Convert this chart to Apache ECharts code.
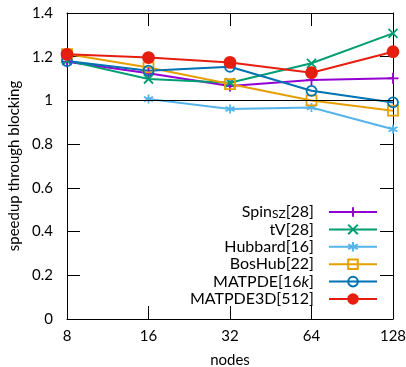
<!DOCTYPE html>
<html><head><meta charset="utf-8">
<script src="https://cdn.jsdelivr.net/npm/echarts@6/dist/echarts.min.js"></script>
<style>html,body{margin:0;padding:0;background:#fff}#c{width:406px;height:367px}</style>
</head><body><div id="c"></div>
<script>
var nodes = [8, 16, 32, 64, 128];
var xTicks = ['8','16','32','64','128'];
var spinSZ   = [1.177, 1.124, 1.066, 1.093, 1.101];
var tV       = [1.182, 1.098, 1.081, 1.170, 1.307];
var hubbard  = [null, 1.006, 0.961, 0.968, 0.868];
var bosHub   = [1.212, 1.151, 1.075, 1.000, 0.953];
var matpde   = [1.180, 1.136, 1.154, 1.044, 0.991];
var matpde3d = [1.211, 1.196, 1.174, 1.127, 1.223];

var FONT = 'Lato';
var names = ['Spin_SZ[28]','tV[28]','Hubbard[16]','BosHub[22]','MATPDE[16k]','MATPDE3D[512]'];
var plus = 'path://M5,0 L5,10 M0,5 L10,5';
var cross = 'path://M0,0 L10,10 M0,10 L10,0';
var star = 'path://M5,0 L5,10 M0.7,2.5 L9.3,7.5 M0.7,7.5 L9.3,2.5';

function mk(name, data, color, symbol, size, fill){
  return {
    name: name, type: 'line',
    data: nodes.map(function(n,i){ return data[i]==null ? null : [n, data[i]]; }),
    connectNulls: false,
    symbol: symbol, symbolSize: size, showAllSymbol: true,
    lineStyle: {color: color, width: 2},
    itemStyle: {color: fill || color, borderColor: color, borderWidth: 1.8},
    emphasis: {disabled: true},
    animation: false, z: 3
  };
}
var series = [
  mk(names[0], spinSZ, '#9400d3', plus, 11),
  mk(names[1], tV, '#009e73', cross, 9),
  mk(names[2], hubbard, '#56b4e9', star, 9),
  mk(names[3], bosHub, '#e69f00', 'rect', 10, 'rgba(255,255,255,0)'),
  mk(names[4], matpde, '#0072b2', 'circle', 10, 'rgba(255,255,255,0)'),
  mk(names[5], matpde3d, '#e51e10', 'circle', 11)
];
series[0].markLine = {silent: true, symbol: 'none', label: {show: false},
  lineStyle: {color: '#000', width: 1, type: 'solid'}, data: [{yAxis: 1}], animation: false};

var chart = echarts.init(document.getElementById('c'));
var axisBase = {
  axisLine: {show: true, onZero: false, lineStyle: {color: '#000', width: 1}},
  axisTick: {show: true, inside: true, length: 13, lineStyle: {color: '#000', width: 1}},
  splitLine: {show: false}
};
chart.setOption({
  backgroundColor: '#fff',
  animation: false,
  textStyle: {fontFamily: FONT},
  grid: {left: 67, right: 13, top: 13, bottom: 48, containLabel: false, outerBoundsMode: 'none'},
  legend: {
    orient: 'vertical', left: 179, top: 199, align: 'right',
    itemWidth: 48, itemHeight: 12, itemGap: 1.4,
    selectedMode: false,
    formatter: function(n){
      if (n === 'Spin_SZ[28]') return 'Spin{sub|SZ}[28]';
      if (n === 'MATPDE[16k]') return 'MATPDE[16{it|k}]';
      return n;
    },
    textStyle: {fontFamily: FONT, fontSize: 16, color: '#000', width: 130, align: 'right', lineHeight: 16,
      padding: [0, 10, 0, 0],
      rich: {sub: {fontFamily: FONT, fontSize: 12, verticalAlign: 'bottom', padding: [6,0,0,0]},
             it: {fontFamily: FONT, fontSize: 16, fontStyle: 'italic'}}},
    data: names
  },
  xAxis: [
    Object.assign({type: 'log', logBase: 2, min: 8, max: 128, position: 'bottom',
      name: 'nodes', nameLocation: 'middle', nameGap: 34,
      nameTextStyle: {fontFamily: FONT, fontSize: 15, color: '#000'},
      axisLabel: {color: '#000', fontSize: 15, fontFamily: FONT, margin: 10,
        formatter: function(v){ return String(Math.round(v)); }}}, axisBase),
    Object.assign({type: 'log', logBase: 2, min: 8, max: 128, position: 'top',
      axisLabel: {show: false}}, axisBase)
  ],
  yAxis: [
    Object.assign({type: 'value', min: 0, max: 1.4, interval: 0.2, position: 'left',
      name: 'speedup through blocking', nameLocation: 'middle', nameGap: 41,
      nameTextStyle: {fontFamily: FONT, fontSize: 15, color: '#000'},
      axisLabel: {color: '#000', fontSize: 15, fontFamily: FONT, margin: 14,
        formatter: function(v){ return String(Math.round(v*10)/10); }}}, axisBase),
    Object.assign({type: 'value', min: 0, max: 1.4, interval: 0.2, position: 'right',
      axisLabel: {show: false}}, axisBase)
  ],
  series: series
});
</script></body></html>
